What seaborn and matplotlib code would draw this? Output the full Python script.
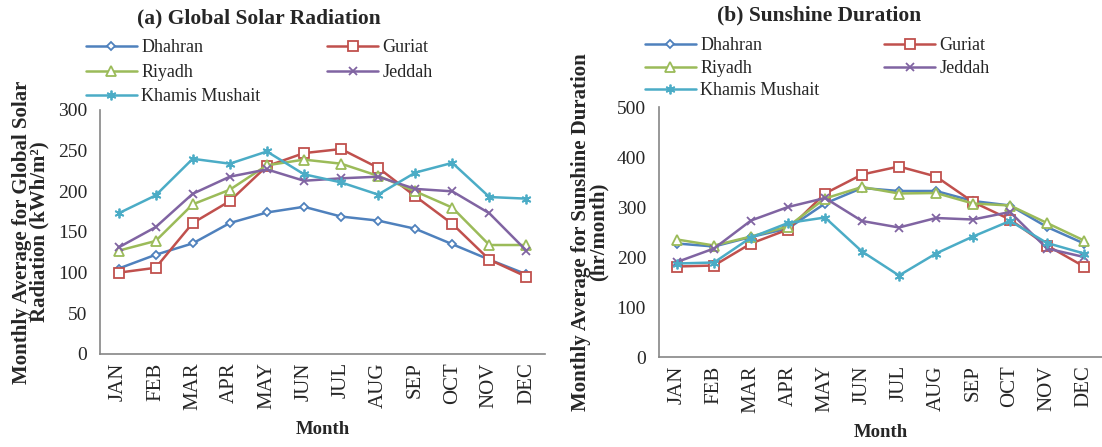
import matplotlib
matplotlib.use("Agg")
import matplotlib.pyplot as plt
import seaborn as sns
import pandas as pd

# --- data ---
months = ["JAN", "FEB", "MAR", "APR", "MAY", "JUN", "JUL", "AUG", "SEP", "OCT", "NOV", "DEC"]
cities = ["Dhahran", "Guriat", "Riyadh", "Jeddah", "Khamis Mushait"]

# (a) global solar radiation, kWh/m2
rad_dhahran = [105, 122, 136, 161, 174, 181, 169, 164, 154, 135, 116, 98]
rad_guriat = [100, 106, 161, 188, 231, 247, 252, 229, 194, 160, 116, 95]
rad_riyadh = [127, 139, 184, 202, 232, 239, 234, 219, 200, 180, 134, 134]
rad_jeddah = [131, 156, 197, 218, 227, 213, 216, 218, 203, 200, 173, 127]
rad_khamis = [173, 195, 240, 234, 249, 221, 211, 196, 223, 235, 193, 191]

# (b) sunshine duration, hr/month
sun_dhahran = [227, 221, 240, 257, 307, 338, 332, 332, 312, 303, 260, 227]
sun_guriat = [181, 183, 227, 255, 327, 365, 381, 361, 310, 275, 223, 181]
sun_riyadh = [235, 223, 241, 261, 317, 340, 327, 328, 307, 303, 268, 233]
sun_jeddah = [190, 217, 273, 300, 318, 272, 259, 278, 275, 290, 217, 200]
sun_khamis = [187, 189, 239, 268, 279, 211, 163, 207, 241, 272, 228, 207]

radiation = [rad_dhahran, rad_guriat, rad_riyadh, rad_jeddah, rad_khamis]
sunshine = [sun_dhahran, sun_guriat, sun_riyadh, sun_jeddah, sun_khamis]

colors = ["#4F81BD", "#C0504D", "#9BBB59", "#8064A2", "#4BACC6"]
markers = ["D", "s", "^", "x", (6, 2, 0)]
msizes = [4.5, 6.5, 6.5, 6, 7]

sns.set_theme(style="white")
plt.rcParams["font.family"] = ["Liberation Serif", "DejaVu Serif"]

W, H = 1102, 447
fig = plt.figure(figsize=(W / 100, H / 100), dpi=100)
ax1 = fig.add_axes([100 / W, 93 / H, 445 / W, 244 / H])
ax2 = fig.add_axes([658.5 / W, 90 / H, 444 / W, 250 / H])


def draw(ax, series, ymax, ystep, ylabel, leg_x, leg_y, colsp, lsp):
    for name, vals, c, m, ms in zip(cities, series, colors, markers, msizes):
        df = pd.DataFrame({"month": range(len(months)), "value": vals})
        sns.lineplot(data=df, x="month", y="value", ax=ax, color=c, marker=m,
                     markersize=ms, markerfacecolor="white", markeredgecolor=c,
                     markeredgewidth=1.3, linewidth=1.8, label=name)
    ax.set_xlim(-0.5, len(months) - 0.5)
    ax.set_ylim(0, ymax)
    ax.set_yticks(range(0, ymax + 1, ystep))
    ax.set_xticks([i - 0.5 for i in range(len(months) + 1)])
    ax.set_xticklabels([])
    ax.set_xticks(range(len(months)), minor=True)
    ax.set_xticklabels(months, minor=True, rotation=90, fontsize=15)
    ax.tick_params(axis="x", which="major", direction="out", length=5, color="#868686", width=1)
    ax.tick_params(axis="x", which="minor", length=0, pad=6)
    ax.tick_params(axis="y", direction="out", length=5, color="#868686", width=1,
                   labelsize=14, pad=4)
    for s in ["top", "right"]:
        ax.spines[s].set_visible(False)
    for s in ["left", "bottom"]:
        ax.spines[s].set_color("#868686")
        ax.spines[s].set_linewidth(1.2)
    ax.set_xlabel("Month", fontsize=13.5, fontweight="bold", labelpad=8)
    ax.set_ylabel(ylabel, fontsize=15, fontweight="bold", linespacing=0.85, labelpad=6)
    h, l = ax.get_legend_handles_labels()
    order = [0, 2, 4, 1, 3]
    ax.legend([h[i] for i in order], [l[i] for i in order], ncol=2, frameon=False,
              loc="upper left", bbox_to_anchor=(leg_x, leg_y), fontsize=13,
              handlelength=2.8, handletextpad=0.25, columnspacing=colsp,
              labelspacing=lsp, borderaxespad=0, borderpad=0)
    ax.grid(False)


draw(ax1, radiation, 300, 50, "Monthly Average for Global Solar\nRadiation (kWh/m²)",
     -0.031, 1.29, 3.7, 0.42)
draw(ax2, sunshine, 500, 100, "Monthly Average for Sunshine Duration\n(hr/month)",
     -0.030, 1.278, 3.6, 0.3)

fig.text(259 / W, 1 - 18 / H, "(a) Global Solar Radiation", ha="center", va="center",
         fontsize=15.5, fontweight="bold")
fig.text(819 / W, 1 - 15 / H, "(b) Sunshine Duration", ha="center", va="center",
         fontsize=15.5, fontweight="bold")

fig.savefig("out.png", dpi=100)
